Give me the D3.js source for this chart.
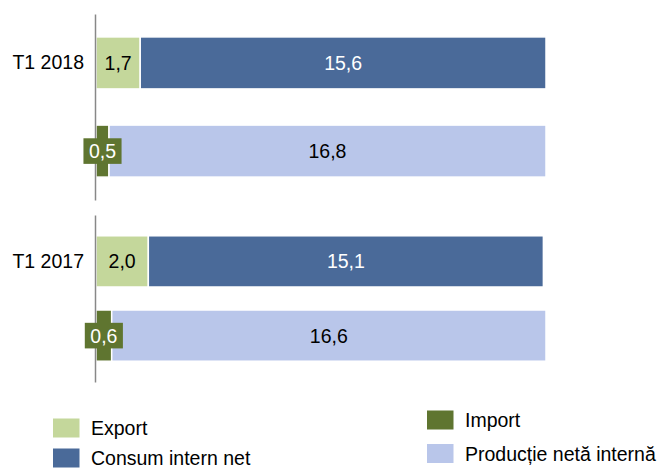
<!DOCTYPE html>
<html>
<head>
<meta charset="utf-8">
<script src="https://cdn.jsdelivr.net/npm/d3@7"></script>
<style>
  html, body { margin: 0; padding: 0; background: #fff; overflow: hidden; }
  svg { display: block; font-family: "Liberation Sans", Arial, sans-serif; }
</style>
</head>
<body>
<div id="chart"></div>
<script>
// quarters shown, one panel each
const PERIODS = ["T1 2018", "T1 2017"];
// first bar: export + net domestic consumption
const EXPORT = [1.7, 2.0];
const CONSUM = [15.6, 15.1];
// second bar: import + net domestic production
const IMPORT = [0.5, 0.6];
const PRODUCTIE = [16.8, 16.6];

const SERIES = [
  { key: "export", label: "Export", color: "#c4d79b", text: "#000" },
  { key: "consum", label: "Consum intern net", color: "#4a6a99", text: "#fff" },
  { key: "import", label: "Import", color: "#5f7530", text: "#fff" },
  { key: "productie", label: "Producție netă internă", color: "#b9c6ea", text: "#000" }
];
const S = Object.fromEntries(SERIES.map(s => [s.key, s]));

const W = 664, H = 470;
const fmt = v => d3.format(".1f")(v).replace(".", ",");

const svg = d3.select("#chart").append("svg")
  .attr("width", W).attr("height", H);

// each panel has its own band layout
const PANELS = [
  { y0: 14, y1: 200, inner: 0.41, outer: 0.26 },
  { y0: 215, y1: 382, inner: 0.31, outer: 0.28 }
];
const X0 = 96, X1 = 546;

PERIODS.forEach((period, i) => {
  const rows = [
    { id: "a", segs: [["export", EXPORT[i]], ["consum", CONSUM[i]]] },
    { id: "b", segs: [["import", IMPORT[i]], ["productie", PRODUCTIE[i]]] }
  ];
  rows.forEach(r => {
    let acc = 0;
    r.parts = r.segs.map(([k, v]) => { const p = { key: k, v, x0: acc, x1: acc + v }; acc += v; return p; });
    r.total = acc;
  });

  const p = PANELS[i];
  const x = d3.scaleLinear().domain([0, d3.max(rows, r => r.total)]).range([X0, X1]);
  const y = d3.scaleBand().domain(rows.map(r => r.id)).range([p.y0, p.y1])
    .paddingInner(p.inner).paddingOuter(p.outer);

  const g = svg.append("g");

  // bars
  rows.forEach(r => {
    g.selectAll(null).data(r.parts).enter().append("rect")
      .attr("x", d => x(d.x0)).attr("width", d => x(d.x1) - x(d.x0))
      .attr("y", y(r.id)).attr("height", y.bandwidth())
      .attr("fill", d => S[d.key].color)
      .attr("stroke", "#fff").attr("stroke-width", 1.5);
  });

  // category axis
  const ax = g.append("g").attr("transform", `translate(${X0 - 1},0)`)
    .call(d3.axisLeft(y).tickSize(0).tickSizeOuter(0).tickPadding(11)
      .tickFormat(id => id === "a" ? period : ""));
  ax.select(".domain").attr("stroke", "#888").attr("stroke-width", 1.5);
  ax.selectAll("text").style("font-size", "19.5px").attr("fill", "#000")
    .style("font-family", "'Liberation Sans', Arial, sans-serif");

  // data labels
  rows.forEach(r => {
    r.parts.forEach(d => {
      const cx = (x(d.x0) + x(d.x1)) / 2, cy = y(r.id) + y.bandwidth() / 2;
      const lg = g.append("g");
      const t = lg.append("text").attr("x", cx).attr("y", cy).attr("dy", "0.36em")
        .attr("text-anchor", "middle").style("font-size", "19.5px")
        .attr("fill", S[d.key].text).text(fmt(d.v));
      if (d.key === "import") {
        const tw = t.node().getComputedTextLength();
        lg.insert("rect", "text")
          .attr("x", cx - tw / 2 - 5.5).attr("width", tw + 11)
          .attr("y", cy - 12.8).attr("height", 25.6)
          .attr("fill", S.import.color);
      }
    });
  });
});

// legend
const LEG = [
  { key: "export", x: 53, cy: 428 },
  { key: "consum", x: 53, cy: 458 },
  { key: "import", x: 427, cy: 420 },
  { key: "productie", x: 427, cy: 453.5 }
];
const lg = svg.append("g");
LEG.forEach(l => {
  lg.append("rect").attr("x", l.x).attr("y", l.cy - 9.5).attr("width", 26.5).attr("height", 19)
    .attr("fill", S[l.key].color);
  lg.append("text").attr("x", l.x + 38).attr("y", l.cy).attr("dy", "0.36em")
    .style("font-size", "19.5px").attr("fill", "#000").text(S[l.key].label);
});
</script>
</body>
</html>
